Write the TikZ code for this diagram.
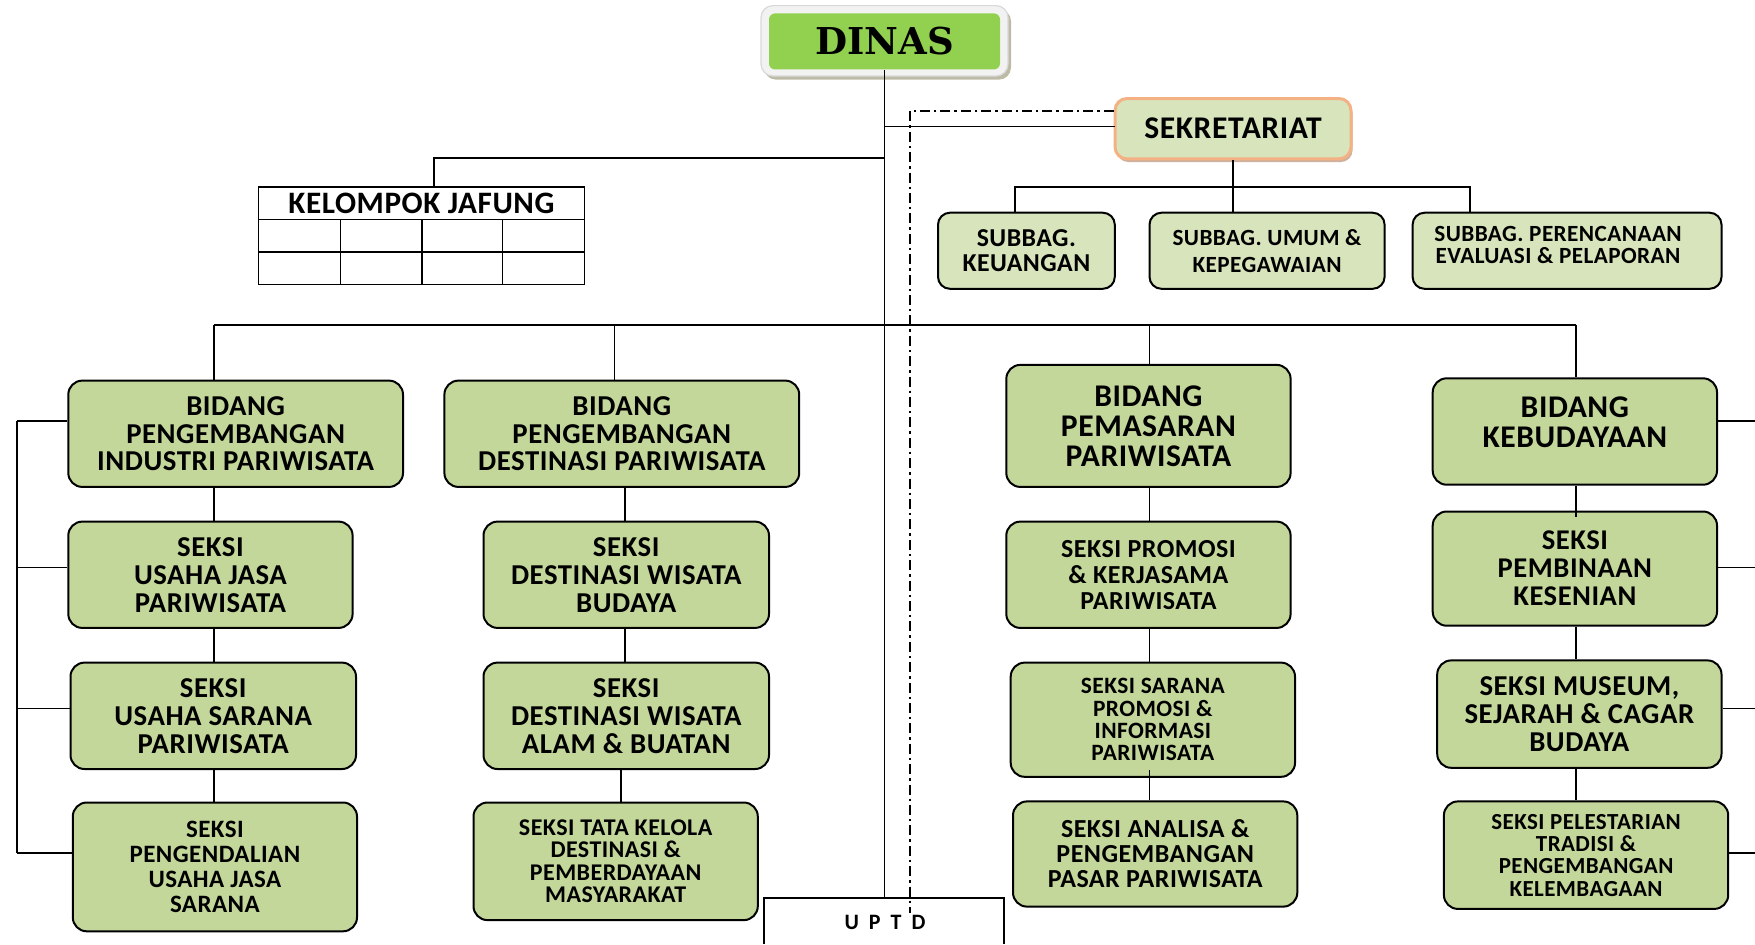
\documentclass[tikz,border=0pt]{standalone}
\usepackage{fontspec}
\setmainfont{Carlito}[LetterSpace=1.8]
\newfontfamily\dinasfont{DejaVu Serif}
\usetikzlibrary{shadows}
\definecolor{boxgreen}{HTML}{C4D79B}
\definecolor{subgreen}{HTML}{D8E4BC}
\definecolor{dinasgreen}{HTML}{92D050}
\definecolor{sekorange}{HTML}{F4B183}
\definecolor{framegray}{HTML}{F2F2F2}
\newcommand\fs[2]{\fontsize{#1}{#2}\selectfont\bfseries}
\newcommand\bx[7]{\node[#6, minimum width={(#4-#2)*0.5pt}, minimum height={(#5-#3)*0.5pt}] (#1) at ({(#2+#4)/2},{(#3+#5)/2}) {#7};}
\begin{document}
\begin{tikzpicture}[x=0.5pt,y=-0.5pt,
  gbox/.style={draw=black, line width=1pt, rounded corners=7pt, fill=boxgreen, align=center, inner sep=0pt},
  lbox/.style={draw=black, line width=1pt, rounded corners=6pt, fill=subgreen, align=center, inner sep=0pt},
  tbl/.style={draw=black, line width=0.8pt, inner sep=0pt, align=center},
  conn/.style={line width=0.9pt, black},
  dd/.style={line width=0.8pt, dash pattern=on 5pt off 2pt on 1.2pt off 2pt},
  txt/.style={align=center, inner sep=0pt}]
\useasboundingbox (0,0) rectangle (1755,944);

% DINAS
\bx{dinasF}{761}{5.6}{1008}{76}{draw=black!15, line width=0.6pt, fill=framegray, rounded corners=6pt, drop shadow={shadow xshift=1.5pt, shadow yshift=-1.8pt, fill=black!55!olive!70, opacity=0.55}, inner sep=0pt}{}
\bx{dinas}{769}{13.4}{1000}{69.4}{fill=dinasgreen, rounded corners=3pt, inner sep=0pt, font={\dinasfont\bfseries\fontsize{18.5}{20}\selectfont}}{DINAS}

% SEKRETARIAT
\bx{sek}{1115}{98.5}{1351}{158.9}{lbox, draw=sekorange, line width=1.5pt, rounded corners=6pt, drop shadow={shadow xshift=0.8pt, shadow yshift=-1.6pt, fill=sekorange!70!black, opacity=0.6}, font=\fs{15.8}{15}}{SEKRETARIAT}

% Subbag
\bx{keu}{938}{212.7}{1114.8}{288.8}{lbox, font=\fs{12.9}{12.3}}{SUBBAG.\\KEUANGAN}
\bx{umu}{1149.5}{212.7}{1384.6}{288.8}{lbox, font=\fs{11.6}{13.4}}{SUBBAG. UMUM \&\\KEPEGAWAIAN}
\bx{per}{1412.6}{212.7}{1721.5}{288.8}{lbox}{}
\node[txt, font=\fs{11.6}{11.2}] (perT) at ([yshift=3pt,xshift=-4.5pt]per.center) {SUBBAG. PERENCANAAN\\EVALUASI \& PELAPORAN};

% Kelompok Jafung
\bx{kjh}{258.6}{186.9}{584.3}{219.4}{tbl, font=\fs{15.6}{15}}{KELOMPOK JAFUNG}
\bx{kjb}{258.6}{219.4}{584.3}{284.3}{tbl}{}
\draw[line width=0.8pt] (kjb.west) -- (kjb.east);
\foreach \cx in {340.3,422,502.6} \draw[line width=0.8pt] (\cx,219.4) -- (\cx,284.3);

% Column 1
\bx{pip}{68.3}{380.6}{403}{486.9}{gbox, font=\fs{14.4}{13.6}}{BIDANG\\PENGEMBANGAN\\INDUSTRI PARIWISATA}
\bx{ujp}{68.3}{521.6}{352.6}{627.9}{gbox, font=\fs{14.4}{14}}{SEKSI\\USAHA JASA\\PARIWISATA}
\bx{usp}{70.5}{662.6}{356}{769}{gbox, font=\fs{14.4}{14}}{SEKSI\\USAHA SARANA\\PARIWISATA}
\bx{pujs}{72.8}{802.5}{357}{931.3}{gbox, font=\fs{12.5}{12.6}}{SEKSI\\PENGENDALIAN\\USAHA JASA\\SARANA}

% Column 2
\bx{pdp}{444.4}{380.6}{799.2}{486.9}{gbox, font=\fs{14.4}{13.6}}{BIDANG\\PENGEMBANGAN\\DESTINASI PARIWISATA}
\bx{dwb}{483.5}{521.6}{769}{627.9}{gbox, font=\fs{14.4}{14}}{SEKSI\\DESTINASI WISATA\\BUDAYA}
\bx{dwab}{483.5}{662.6}{769}{769}{gbox, font=\fs{14.4}{14}}{SEKSI\\DESTINASI WISATA\\ALAM \& BUATAN}
\bx{tk}{473.5}{802.5}{757.8}{920.1}{gbox, font=\fs{12}{11.2}}{SEKSI TATA KELOLA\\DESTINASI \&\\PEMBERDAYAAN\\MASYARAKAT}

% Column 3
\bx{pem}{1006.3}{364.9}{1290.6}{486.9}{gbox, font=\fs{15.8}{15}}{BIDANG\\PEMASARAN\\PARIWISATA}
\bx{pro}{1006.3}{521.6}{1290.6}{627.9}{gbox, font=\fs{13}{12.9}}{SEKSI PROMOSI\\\& KERJASAMA\\PARIWISATA}
\bx{spi}{1010.7}{662.6}{1295}{776.8}{gbox, font=\fs{11.7}{11.2}}{SEKSI SARANA\\PROMOSI \&\\INFORMASI\\PARIWISATA}
\bx{ana}{1013}{801.4}{1297.3}{906.6}{gbox, font=\fs{13}{12.5}}{SEKSI ANALISA \&\\PENGEMBANGAN\\PASAR PARIWISATA}

% Column 4
\bx{keb}{1432.7}{378.3}{1717}{484.7}{gbox}{}
\node[txt, font=\fs{15.8}{15}] (kebT) at ([yshift=4.5pt]keb.center) {BIDANG\\KEBUDAYAAN};
\bx{pmb}{1432.7}{511.5}{1717}{625.7}{gbox, font=\fs{14.3}{14}}{SEKSI\\PEMBINAAN\\KESENIAN}
\bx{mus}{1437.2}{660.4}{1721.5}{767.8}{gbox, font=\fs{14.4}{13.8}}{SEKSI MUSEUM,\\SEJARAH \& CAGAR\\BUDAYA}
\bx{pel}{1443.9}{801.4}{1728.2}{908.9}{gbox, font=\fs{11.5}{11.2}}{SEKSI PELESTARIAN\\TRADISI \&\\PENGEMBANGAN\\KELEMBAGAAN}

% UPTD
\coordinate (uBL) at (764,944);
\coordinate (uTL) at (764,898);
\coordinate (uTR) at (1004,898);
\coordinate (uBR) at (1004,944);
\draw[line width=0.9pt] (uBL) -- (uTL) -- (uTR) -- (uBR);
\node[txt, font=\fs{11}{12}] (uptd) at (885,922) {U\hspace{5pt}P\hspace{5pt}T\hspace{5pt}D};

% trunk and secretariat
\draw[conn] (dinas.south) -- (dinas.south |- uTL);
\coordinate (sekIn) at (1115,126.5);
\draw[conn] (dinas.south |- sekIn) -- (sekIn);
\coordinate (ddTop) at (910,110.8);
\coordinate (ddBot) at (910,913);
\draw[dd] (sek.west |- ddTop) -- (ddTop) -- (ddBot);

% Kelompok connector
\coordinate (kjIn) at (434.3,186.9);
\draw[conn] (dinas.south |- 0,157.8) -| (kjIn);

% Subbag connectors
\coordinate (kIn) at (1015.2,212.7);
\coordinate (pIn) at (1469.6,212.7);
\draw[conn] (kIn) -- ++(0,-25.8) -| (pIn);
\draw[conn] (sek.south) -- (sek.south |- umu.north);

% Main bar
\coordinate (x1) at (213.8,324.6);
\coordinate (x2) at (614.5,324.6);
\coordinate (x3) at (1149.5,324.6);
\coordinate (x4) at (1576,324.6);
\draw[conn] (x1) -- (x4);
\draw[conn] (x1) -- (x1 |- pip.north);
\draw[conn] (x2) -- (x2 |- pdp.north);
\draw[conn] (x3) -- (x3 |- pem.north);
\draw[conn] (x4) -- (x4 |- keb.north);

% Column connectors
\draw[conn] (x1 |- pip.south) -- (x1 |- ujp.north);
\draw[conn] (x1 |- ujp.south) -- (x1 |- usp.north);
\draw[conn] (x1 |- usp.south) -- (x1 |- pujs.north);
\coordinate (c2a) at (624.6,0);
\coordinate (c2b) at (621.2,0);
\draw[conn] (c2a |- pdp.south) -- (c2a |- dwb.north);
\draw[conn] (c2a |- dwb.south) -- (c2a |- dwab.north);
\draw[conn] (c2b |- dwab.south) -- (c2b |- tk.north);
\draw[conn] (x3 |- pem.south) -- (x3 |- pro.north);
\draw[conn] (x3 |- pro.south) -- (x3 |- spi.north);
\draw[conn] ([yshift=4pt]x3 |- spi.south) -- (x3 |- ana.north);
\draw[conn] (x4 |- keb.south) -- ([yshift=-3pt]x4 |- pmb.north);
\draw[conn] (x4 |- pmb.south) -- (x4 |- mus.north);
\draw[conn] (x4 |- mus.south) -- (x4 |- pel.north);

% Left bracket
\coordinate (lb1) at (16.8,420.9);
\coordinate (lb2) at (16.8,567.5);
\coordinate (lb3) at (16.8,708.5);
\coordinate (lb4) at (16.8,852.9);
\draw[conn] (lb1) -- (lb4);
\draw[conn] (lb1) -- (lb1 -| pip.west);
\draw[conn] (lb2) -- (lb2 -| ujp.west);
\draw[conn] (lb3) -- (lb3 -| usp.west);
\draw[conn] (lb4) -- (lb4 -| pujs.west);

% Right stubs
\coordinate (rb1) at (1755,420.9);
\coordinate (rb2) at (1755,567.5);
\coordinate (rb3) at (1755,708.5);
\coordinate (rb4) at (1755,852.9);
\draw[conn] (rb1 -| keb.east) -- (rb1);
\draw[conn] (rb2 -| pmb.east) -- (rb2);
\draw[conn] (rb3 -| mus.east) -- (rb3);
\draw[conn] (rb4 -| pel.east) -- (rb4);
\end{tikzpicture}
\end{document}
